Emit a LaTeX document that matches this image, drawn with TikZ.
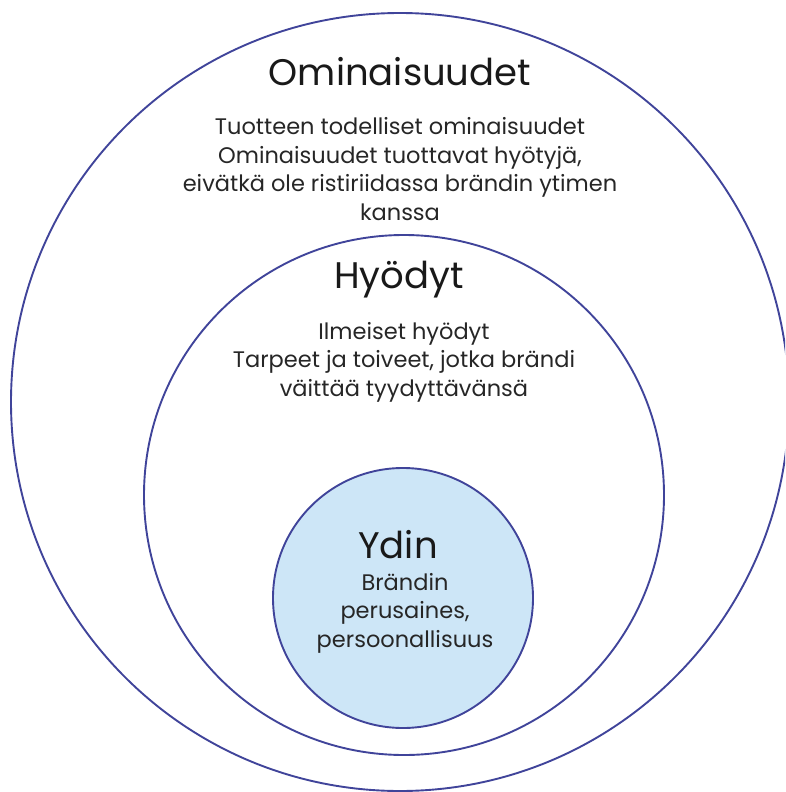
\documentclass[tikz,border=0pt]{standalone}
\usepackage{fontspec}
\setmainfont{Poppins}
\definecolor{ringblue}{HTML}{40449A}
\definecolor{corefill}{HTML}{CDE6F7}
\begin{document}
\begin{tikzpicture}[x=1pt,y=-1pt,
    ring/.style={draw=ringblue, line width=1.9pt},
    title/.style={font=\fontsize{37}{42}\selectfont, text=black!90},
    body/.style={align=center, font=\fontsize{22.5}{28.5}\selectfont, text=black!85}]
    \useasboundingbox (0,0) rectangle (785,792);
    % Ympyrät
    \begin{scope}
        \clip (0,0) rectangle (785,792);
        \draw[ring] (400,402) circle (389pt);
    \end{scope}
    \draw[ring] (404,495) circle (260pt);
    \draw[ring, fill=corefill] (403,598) circle (130pt);
    % Ominaisuudet
    \node[title] (omin) at (400,72) {Ominaisuudet};
    \node[body] (omintxt) at (400,169)
        {Tuotteen todelliset ominaisuudet\\
         Ominaisuudet tuottavat hyötyjä,\\
         eivätkä ole ristiriidassa brändin ytimen\\
         kanssa};
    % Hyödyt
    \node[title] (hyod) at (399,280) {Hyödyt};
    \node[body] (hyodtxt) at (404,362)
        {Ilmeiset hyödyt\\
         Tarpeet ja toiveet, jotka brändi\\
         väittää tyydyttävänsä};
    % Ydin
    \node[title] (ydin) at (398,545) {Ydin};
    \node[body] (ydintxt) at (405,613)
        {Brändin\\
         perusaines,\\
         persoonallisuus};
\end{tikzpicture}
\end{document}
